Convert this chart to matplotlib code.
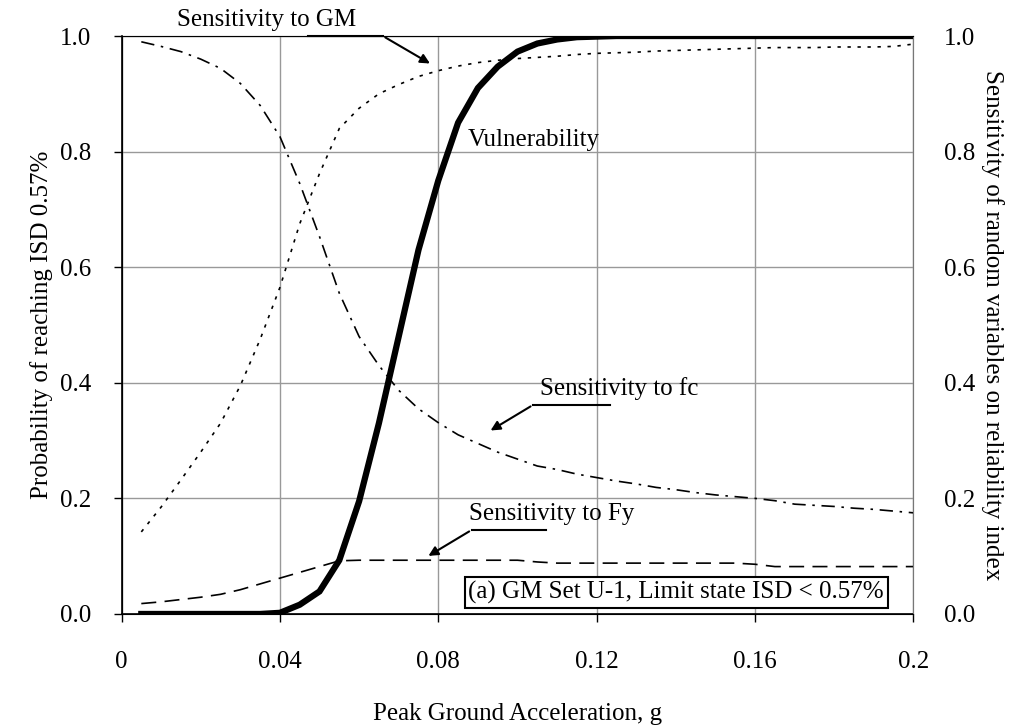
import numpy as np
import matplotlib
matplotlib.use("Agg")
import matplotlib.pyplot as plt

plt.rcParams['font.family'] = ['Liberation Serif', 'DejaVu Serif']
plt.rcParams['font.size'] = 18

# peak ground acceleration (g)
pga = [0.005, 0.010, 0.015, 0.020, 0.025, 0.030, 0.035, 0.040, 0.045, 0.050,
       0.055, 0.060, 0.065, 0.070, 0.075, 0.080, 0.085, 0.090, 0.095, 0.100,
       0.105, 0.110, 0.115, 0.120, 0.125, 0.130, 0.135, 0.140, 0.145, 0.150,
       0.155, 0.160, 0.165, 0.170, 0.175, 0.180, 0.185, 0.190, 0.195, 0.200]

vulnerability = [0, 0, 0, 0, 0, 0, 0, 0.002, 0.016, 0.039,
                 0.093, 0.195, 0.33, 0.48, 0.63, 0.75, 0.85, 0.91, 0.947, 0.973,
                 0.987, 0.994, 0.998, 0.999, 1, 1, 1, 1, 1, 1,
                 1, 1, 1, 1, 1, 1, 1, 1, 1, 1]

sens_gm = [0.142, 0.185, 0.232, 0.28, 0.33, 0.395, 0.475, 0.565, 0.675, 0.762,
           0.84, 0.875, 0.9, 0.916, 0.93, 0.94, 0.948, 0.954, 0.958, 0.961,
           0.963, 0.965, 0.968, 0.97, 0.971, 0.972, 0.974, 0.975, 0.976, 0.977,
           0.978, 0.979, 0.98, 0.98, 0.98, 0.981, 0.981, 0.981, 0.982, 0.986]

sens_fc = [0.99, 0.982, 0.973, 0.96, 0.944, 0.918, 0.88, 0.826, 0.745, 0.653,
           0.555, 0.48, 0.43, 0.387, 0.355, 0.331, 0.31, 0.295, 0.28, 0.268,
           0.256, 0.25, 0.242, 0.236, 0.23, 0.225, 0.219, 0.215, 0.21, 0.206,
           0.203, 0.2, 0.196, 0.19, 0.188, 0.186, 0.183, 0.181, 0.178, 0.175]

sens_fy = [0.018, 0.021, 0.025, 0.029, 0.034, 0.042, 0.052, 0.062, 0.072, 0.082,
           0.092, 0.093, 0.093, 0.093, 0.093, 0.093, 0.093, 0.093, 0.093, 0.093,
           0.09, 0.088, 0.088, 0.088, 0.088, 0.088, 0.088, 0.088, 0.088, 0.088,
           0.088, 0.086, 0.082, 0.082, 0.082, 0.082, 0.082, 0.082, 0.082, 0.082]

x_ticks = [0, 0.04, 0.08, 0.12, 0.16, 0.2]
x_ticklabels = ["0", "0.04", "0.08", "0.12", "0.16", "0.2"]
y_ticks = [0, 0.2, 0.4, 0.6, 0.8, 1.0]

fig = plt.figure(figsize=(10.16, 7.26), dpi=100)
ax = fig.add_axes([0.1196, 0.1543, 0.7795, 0.7961])

ax.plot(pga, vulnerability, color='black', lw=4.5, solid_joinstyle='miter', zorder=5)
ax.plot(pga, sens_gm, color='black', lw=1.2, linestyle=(0, (2, 4)), zorder=4)
ax.plot(pga, sens_fc, color='black', lw=1.2, linestyle=(0, (8, 4, 1.5, 4)), zorder=4)
ax.plot(pga, sens_fy, color='black', lw=1.2, linestyle=(0, (9, 5)), zorder=4)

ax.set_xlim(0, 0.2)
ax.set_ylim(0, 1)
ax.set_xticks(x_ticks)
ax.set_xticklabels(x_ticklabels)
ax.set_yticks(y_ticks)
ax.set_yticklabels([f"{v:.1f}" for v in y_ticks])
ax.grid(True, color='#999999', lw=1)
ax.set_axisbelow(True)
ax.tick_params(axis='x', direction='out', length=6, width=1, pad=21)
ax.tick_params(axis='y', direction='out', length=6, width=1, pad=16)
for side in ['top', 'right']:
    ax.spines[side].set_color('#999999')
for side in ['left', 'bottom']:
    ax.spines[side].set_color('black')
    ax.spines[side].set_linewidth(1.2)

ax.set_xlabel("Peak Ground Acceleration, g", labelpad=21)
ax.set_ylabel("Probability of reaching ISD 0.57%", labelpad=5)

ax2 = ax.twinx()
ax2.set_ylim(0, 1)
ax2.set_yticks(y_ticks)
ax2.set_yticklabels([f"{v:.1f}" for v in y_ticks])
ax2.tick_params(axis='y', length=0, pad=22)
ax2.spines['right'].set_color('#777777')
ax2.set_ylabel("Sensitivity of random variables on reliability index",
               rotation=270, labelpad=21)

# annotations: label text, text position, leader start, leader corner, arrow head
arrow_kw = dict(arrowstyle='-|>', color='black', lw=1.5, mutation_scale=14)
ax.text(0.0367, 1.018, "Sensitivity to GM", ha='center', va='baseline')
ax.plot([0.0471, 0.066], [1.0, 1.0], color='black', lw=1.5, clip_on=False, zorder=6)
ax.annotate("", xy=(0.0785, 0.95), xytext=(0.066, 1.0), arrowprops=arrow_kw)

ax.text(0.1042, 0.81, "Vulnerability", ha='center', va='baseline')

ax.text(0.1258, 0.379, "Sensitivity to fc", ha='center', va='baseline')
ax.plot([0.1039, 0.1233], [0.3616, 0.3616], color='black', lw=1.5, zorder=6)
ax.annotate("", xy=(0.0926, 0.315), xytext=(0.1039, 0.3616), arrowprops=arrow_kw)

ax.text(0.1086, 0.1626, "Sensitivity to Fy", ha='center', va='baseline')
ax.plot([0.0884, 0.1073], [0.1453, 0.1453], color='black', lw=1.5, zorder=6)
ax.annotate("", xy=(0.0769, 0.098), xytext=(0.0884, 0.1453), arrowprops=arrow_kw)

ax.text(0.1401, 0.027, "(a) GM Set U-1, Limit state ISD < 0.57%", ha='center', va='baseline',
        zorder=7, bbox=dict(boxstyle='square,pad=0.15', fc='white', ec='black', lw=1.5))

fig.savefig("out.png", dpi=100)
